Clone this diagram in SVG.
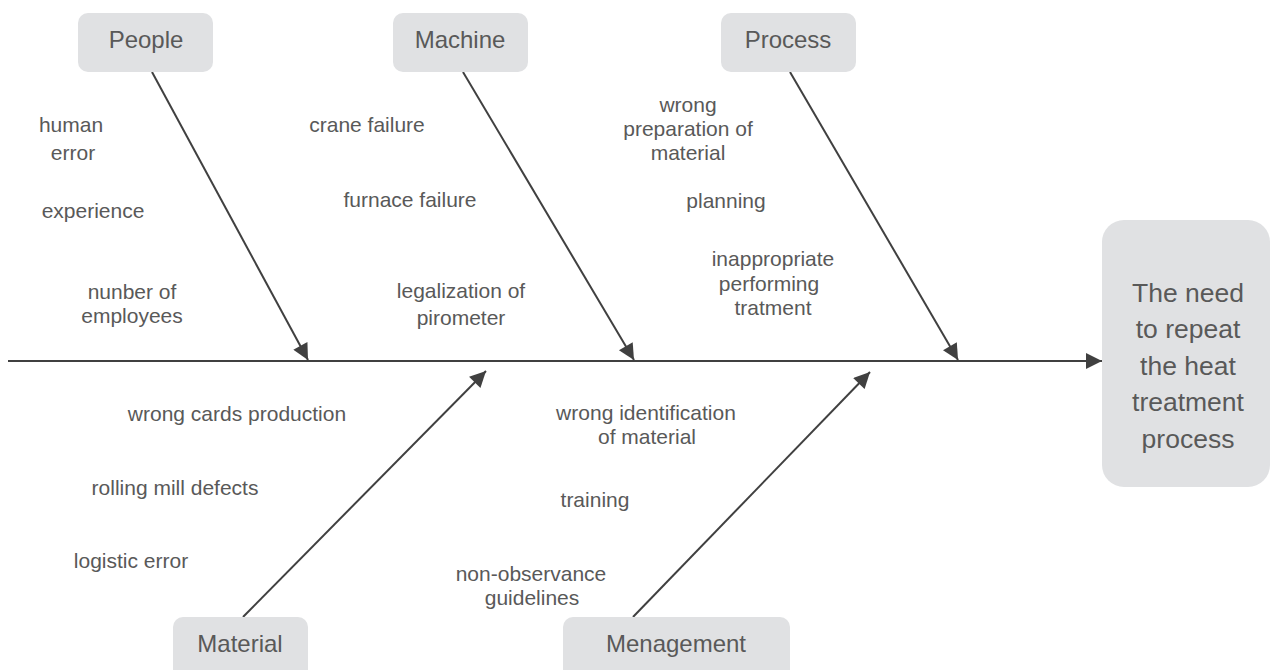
<svg xmlns="http://www.w3.org/2000/svg" width="1271" height="670" viewBox="0 0 1271 670">
<defs>
<style>
.box{fill:#e0e1e3;}
.lbl{font-family:"Liberation Sans",Arial,sans-serif;font-size:24px;fill:#595959;text-anchor:middle;}
.t{font-family:"Liberation Sans",Arial,sans-serif;font-size:21px;fill:#595959;text-anchor:middle;}
.big{font-family:"Liberation Sans",Arial,sans-serif;font-size:26.5px;fill:#595959;text-anchor:middle;}
.ln{stroke:#404040;stroke-width:2;fill:none;marker-end:url(#ah);}
</style>
<marker id="ah" viewBox="0 0 10 10" refX="10" refY="5" markerWidth="9" markerHeight="8" markerUnits="strokeWidth" orient="auto">
<path d="M0,0 L10,5 L0,10 Z" fill="#404040"/>
</marker>
</defs>
<rect width="1271" height="670" fill="#ffffff"/>
<g id="connectors">
<line class="ln" x1="8" y1="361" x2="1102" y2="361"/>
<line class="ln" x1="152" y1="72" x2="308" y2="360"/>
<line class="ln" x1="463" y1="72" x2="634" y2="360"/>
<line class="ln" x1="790" y1="72" x2="958" y2="360"/>
<line class="ln" x1="243" y1="617" x2="486" y2="371"/>
<line class="ln" x1="633" y1="617" x2="870" y2="372"/>
</g>
<g id="people">
<rect class="box" x="78" y="13" width="135" height="59" rx="10"/>
<text class="lbl" x="146" y="48">People</text>
</g>
<g id="machine">
<rect class="box" x="393" y="13" width="135" height="59" rx="10"/>
<text class="lbl" x="460" y="48">Machine</text>
</g>
<g id="process">
<rect class="box" x="721" y="13" width="135" height="59" rx="10"/>
<text class="lbl" x="788" y="48">Process</text>
</g>
<g id="material">
<rect class="box" x="173" y="617" width="135" height="70" rx="10"/>
<text class="lbl" x="240" y="652">Material</text>
</g>
<g id="menagement">
<rect class="box" x="563" y="617" width="227" height="70" rx="10"/>
<text class="lbl" x="676" y="652">Menagement</text>
</g>
<g id="effect">
<rect class="box" x="1102" y="220" width="168" height="267" rx="22"/>
<text class="big" x="1188" y="302">The need</text>
<text class="big" x="1188" y="338">to repeat</text>
<text class="big" x="1188" y="375">the heat</text>
<text class="big" x="1188" y="411">treatment</text>
<text class="big" x="1188" y="448">process</text>
</g>
<g id="causes">
<text class="t" x="71" y="132">human</text>
<text class="t" x="73" y="160">error</text>
<text class="t" x="93" y="218">experience</text>
<text class="t" x="132" y="299">nunber of</text>
<text class="t" x="132" y="323">employees</text>
<text class="t" x="367" y="132">crane failure</text>
<text class="t" x="410" y="207">furnace failure</text>
<text class="t" x="461" y="298">legalization of</text>
<text class="t" x="461" y="325">pirometer</text>
<text class="t" x="688" y="112">wrong</text>
<text class="t" x="688" y="136">preparation of</text>
<text class="t" x="688" y="160">material</text>
<text class="t" x="726" y="208">planning</text>
<text class="t" x="773" y="266">inappropriate</text>
<text class="t" x="769" y="291">performing</text>
<text class="t" x="773" y="315">tratment</text>
<text class="t" x="237" y="421">wrong cards production</text>
<text class="t" x="175" y="495">rolling mill defects</text>
<text class="t" x="131" y="568">logistic error</text>
<text class="t" x="646" y="420">wrong identification</text>
<text class="t" x="647" y="444">of material</text>
<text class="t" x="595" y="507">training</text>
<text class="t" x="531" y="581">non-observance</text>
<text class="t" x="532" y="605">guidelines</text>
</g>
</svg>
